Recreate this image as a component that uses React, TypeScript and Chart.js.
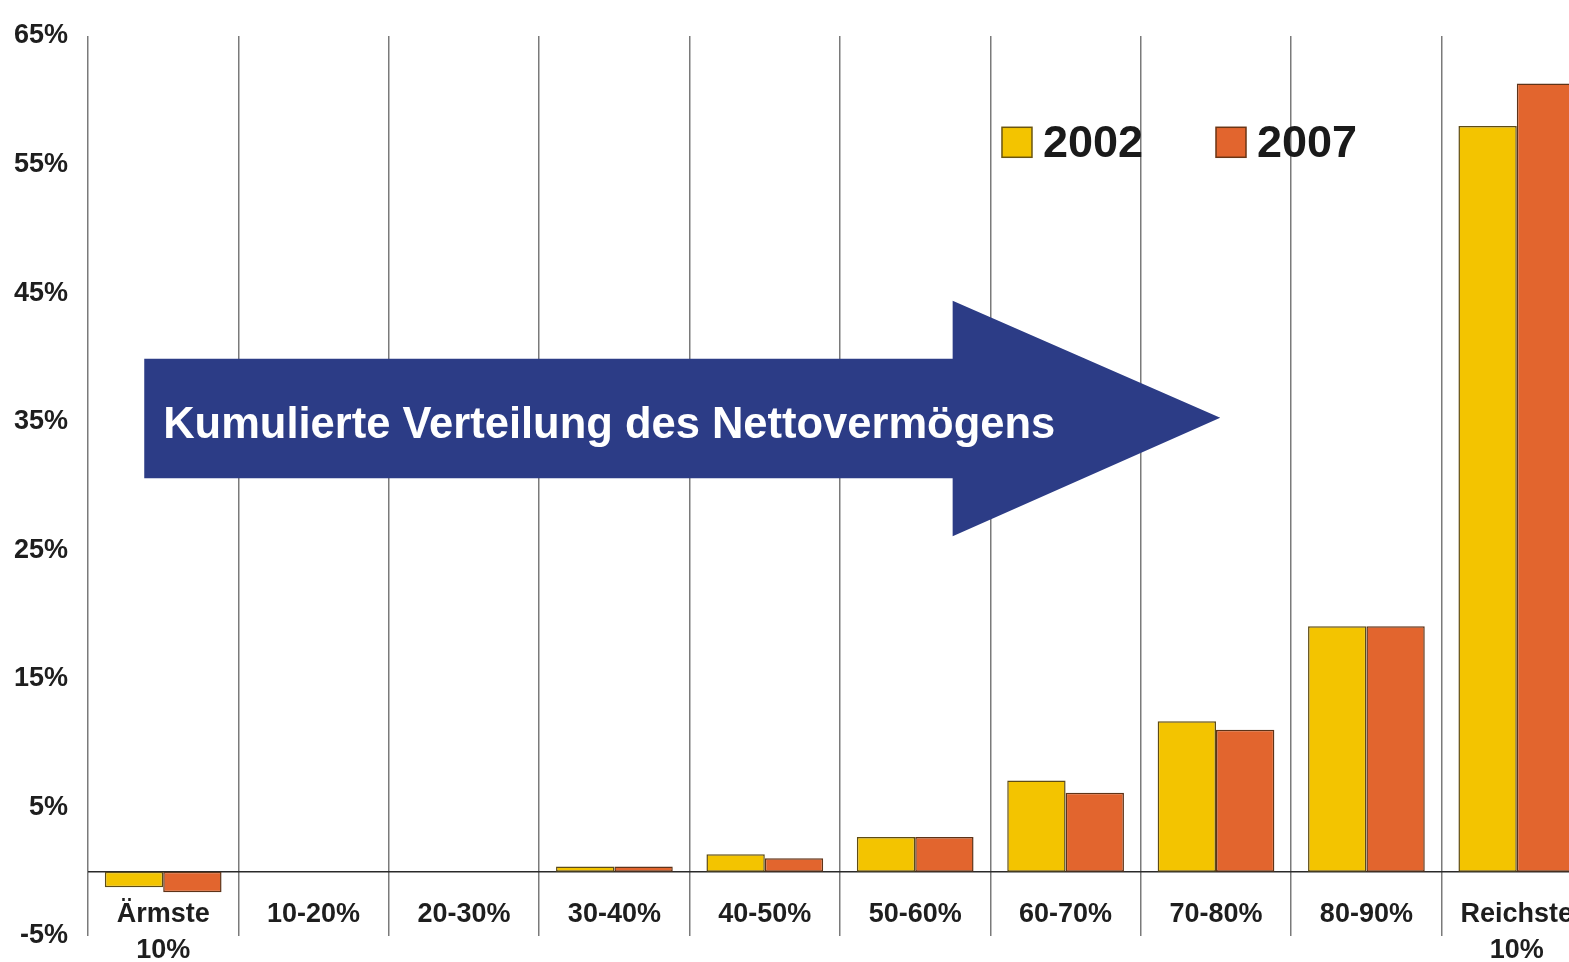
import React, { useEffect, useRef } from "react";
import { Chart, registerables } from "chart.js";

Chart.register(...registerables);

const categories: (string | string[])[] = [
  ["Ärmste", "10%"],
  "10-20%",
  "20-30%",
  "30-40%",
  "40-50%",
  "50-60%",
  "60-70%",
  "70-80%",
  "80-90%",
  ["Reichste", "10%"],
];
const values2002 = [-1.2, 0, 0, 0.4, 1.35, 2.7, 7.1, 11.7, 19.1, 58.0];
const values2007 = [-1.6, 0, 0, 0.4, 1.05, 2.7, 6.15, 11.05, 19.1, 61.3];
const seriesLabels = ["2002", "2007"];
const yTicks = [-5, 5, 15, 25, 35, 45, 55, 65];
const arrowText = "Kumulierte Verteilung des Nettovermögens";

const YELLOW = "#F3C400";
const ORANGE = "#E2652E";
const ARROW = "#2C3C86";
const FONT = "'Liberation Sans', Arial, Helvetica, sans-serif";

const overlayPlugin = {
  id: "overlay",
  beforeDatasetsDraw(chart: any) {
    const { ctx, chartArea, scales } = chart;
    const y0 = scales.y.getPixelForValue(0);
    ctx.save();
    ctx.strokeStyle = "#2a2a2a";
    ctx.lineWidth = 1.5;
    ctx.beginPath();
    ctx.moveTo(chartArea.left, y0);
    ctx.lineTo(chartArea.right, y0);
    ctx.stroke();
    ctx.restore();
  },
  afterDatasetsDraw(chart: any) {
    const { ctx, scales } = chart;
    const xs = scales.x;
    const ys = scales.y;
    const X = (v: number) => xs.getPixelForValue(v);
    const Y = (v: number) => ys.getPixelForValue(v);
    // arrow
    ctx.save();
    ctx.fillStyle = ARROW;
    ctx.beginPath();
    ctx.moveTo(X(-0.126), Y(39.9));
    ctx.lineTo(X(5.249), Y(39.9));
    ctx.lineTo(X(5.249), Y(44.4));
    ctx.lineTo(X(7.028), Y(35.3));
    ctx.lineTo(X(5.249), Y(26.1));
    ctx.lineTo(X(5.249), Y(30.6));
    ctx.lineTo(X(-0.126), Y(30.6));
    ctx.closePath();
    ctx.fill();
    ctx.fillStyle = "#ffffff";
    ctx.font = `bold 43.5px ${FONT}`;
    ctx.textBaseline = "alphabetic";
    ctx.textAlign = "left";
    ctx.fillText(arrowText, X(0.0), Y(33.7));
    ctx.restore();

    // legend
    const items = [
      { x: 5.577, color: YELLOW, border: "#6a5510" },
      { x: 7.0, color: ORANGE, border: "#6a3515" },
    ];
    ctx.save();
    items.forEach((it, i) => {
      const sx = X(it.x);
      const sy = Y(57.9);
      ctx.fillStyle = it.color;
      ctx.strokeStyle = it.border;
      ctx.lineWidth = 1.5;
      ctx.fillRect(sx, sy, 30, 30);
      ctx.strokeRect(sx, sy, 30, 30);
      ctx.fillStyle = "#1a1a1a";
      ctx.font = `bold 45px ${FONT}`;
      ctx.textBaseline = "alphabetic";
      ctx.textAlign = "left";
      ctx.fillText(chart.data.datasets[i].label, sx + 41, sy + 30);
    });
    ctx.restore();
  },
};

export default function App() {
  const ref = useRef<HTMLCanvasElement | null>(null);
  useEffect(() => {
    if (!ref.current) return;
    const chart = new Chart(ref.current, {
      type: "bar",
      data: {
        labels: categories,
        datasets: [
          {
            label: seriesLabels[0],
            data: values2002,
            backgroundColor: YELLOW,
            borderColor: "#5e4c14",
            borderWidth: 1.5,
            borderSkipped: false,
          },
          {
            label: seriesLabels[1],
            data: values2007,
            backgroundColor: ORANGE,
            borderColor: "#5e3318",
            borderWidth: 1.5,
            borderSkipped: false,
          },
        ],
      },
      options: {
        animation: false,
        responsive: false,
        maintainAspectRatio: false,
        layout: { padding: { top: 36, right: 8, left: 0, bottom: 0 } },
        datasets: { bar: { categoryPercentage: 0.776, barPercentage: 1 } },
        plugins: {
          legend: { display: false },
          tooltip: { enabled: false },
        },
        scales: {
          x: {
            grid: {
              display: true,
              offset: true,
              color: "#7a7a7a",
              lineWidth: 1.5,
              drawTicks: false,
            },
            border: { display: false },
            ticks: {
              color: "#1e1e1e",
              font: { family: FONT, size: 27, weight: "bold", lineHeight: 1.3 },
              mirror: true,
              padding: 3.5,
              maxRotation: 0,
              autoSkip: false,
            },
            afterFit: (scale: any) => {
              scale.height = 26;
              scale.paddingTop = 0;
              scale.paddingBottom = 0;
            },
          },
          y: {
            min: -5,
            max: 65,
            afterBuildTicks: (scale: any) => {
              scale.ticks = yTicks.map((v) => ({ value: v }));
            },
            grid: { display: false, drawTicks: false },
            border: { display: false },
            ticks: {
              color: "#1e1e1e",
              font: { family: FONT, size: 27, weight: "bold" },
              padding: 20,
              callback: (v: any) => `${v}%`,
            },
            afterFit: (scale: any) => {
              scale.width = 88;
              scale.paddingTop = 0;
              scale.paddingBottom = 0;
            },
          },
        },
      },
      plugins: [overlayPlugin],
    });
    return () => chart.destroy();
  }, []);

  return (
    <div
      style={{
        position: "fixed",
        left: 0,
        top: 0,
        width: 1569,
        height: 962,
        overflow: "hidden",
        background: "#ffffff",
      }}
    >
      <canvas ref={ref} width={1600} height={962} style={{ display: "block", width: 1600, height: 962 }} />
    </div>
  );
}
